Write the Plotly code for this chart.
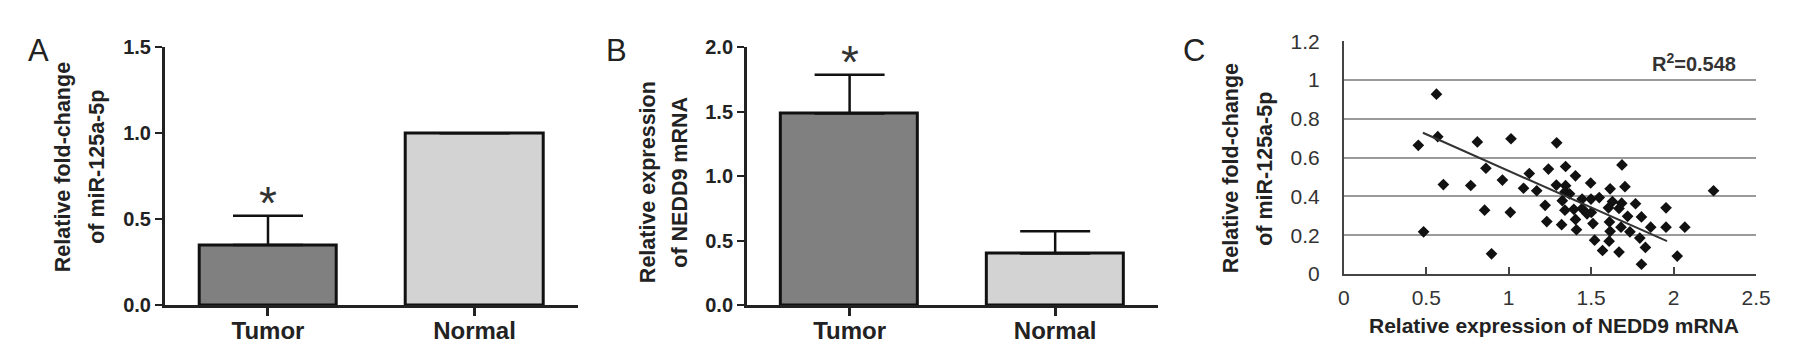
import plotly.graph_objects as go

W, H = 1795, 352

# ---------------- data ----------------
categories = ["Tumor", "Normal"]

mir_mean = [0.35, 1.0]
mir_err = [0.17, 0.0]

nedd9_mean = [1.487, 0.40]
nedd9_err = [0.30, 0.173]

scatter_x = [0.562, 0.570, 0.452, 0.810, 1.014, 1.291, 0.604, 0.770, 0.862, 0.962,
             0.484, 0.854, 1.010, 0.896,
             1.125, 1.090, 1.170, 1.241, 1.345, 1.405, 1.687, 1.497, 1.289, 1.345,
             1.341, 1.369, 1.615, 1.705, 2.242, 1.221, 1.325, 1.445, 1.499, 1.549,
             1.341, 1.395, 1.445, 1.475, 1.501, 1.629, 1.605, 1.669, 1.685, 1.769,
             1.954, 1.231, 1.321, 1.405, 1.411, 1.511, 1.611, 1.721, 1.805, 1.615,
             1.681, 1.735, 1.861, 1.954, 2.068, 1.795, 1.521, 1.609, 1.569, 1.669,
             1.829, 2.022, 1.805]
scatter_y = [0.927, 0.708, 0.663, 0.681, 0.697, 0.676, 0.461, 0.456, 0.545, 0.484,
             0.217, 0.329, 0.318, 0.104,
             0.518, 0.442, 0.429, 0.541, 0.554, 0.506, 0.562, 0.469, 0.458, 0.455,
             0.423, 0.413, 0.439, 0.450, 0.429, 0.354, 0.378, 0.386, 0.386, 0.394,
             0.329, 0.333, 0.337, 0.310, 0.317, 0.373, 0.341, 0.338, 0.365, 0.362,
             0.341, 0.270, 0.254, 0.281, 0.228, 0.260, 0.268, 0.297, 0.294, 0.220,
             0.241, 0.217, 0.241, 0.241, 0.241, 0.185, 0.174, 0.169, 0.121, 0.113,
             0.137, 0.092, 0.050]

trend_x = [0.48, 1.96]
trend_y = [0.728, 0.169]

r2_text = "R<sup>2</sup>=0.548"

x_ticks_c = [0, 0.5, 1, 1.5, 2, 2.5]
x_ticktext_c = ["0", "0.5", "1", "1.5", "2", "2.5"]
y_ticks_c = [0, 0.2, 0.4, 0.6, 0.8, 1.0, 1.2]
y_ticktext_c = ["0", "0.2", "0.4", "0.6", "0.8", "1", "1.2"]

# ---------------- helpers ----------------
def px(x):
    return x / W

def py(y):
    return 1 - y / H

FONT = "Liberation Sans"
bar_colors = ["#808080", "#d3d3d3"]

fig = go.Figure()

def add_bars(vals, errs, xa, ya):
    fig.add_trace(go.Bar(
        x=[0, 1], y=vals, width=0.665,
        marker=dict(color=bar_colors, line=dict(color="#111111", width=3)),
        error_y=dict(type="data", array=errs, arrayminus=[0, 0], symmetric=False,
                     color="#111111", thickness=2.5, width=35),
        xaxis=xa, yaxis=ya, showlegend=False, hoverinfo="skip"))

add_bars(mir_mean, mir_err, "x", "y")
add_bars(nedd9_mean, nedd9_err, "x2", "y2")

fig.add_trace(go.Scatter(
    x=scatter_x, y=scatter_y, mode="markers",
    marker=dict(symbol="diamond", size=9, color="#111111"),
    xaxis="x3", yaxis="y3", showlegend=False, hoverinfo="skip"))
fig.add_trace(go.Scatter(
    x=trend_x, y=trend_y, mode="lines",
    line=dict(color="#333333", width=2),
    xaxis="x3", yaxis="y3", showlegend=False, hoverinfo="skip"))

bar_yd = [py(305), py(29.3)]

def bar_xaxis(dom, anchor):
    return dict(domain=dom, anchor=anchor, range=[-0.5, 1.5], tickvals=[0, 1],
                ticktext=categories, ticks="outside", ticklen=8, tickwidth=2.5,
                tickcolor="#222222", showline=True, linecolor="#222222", linewidth=2.5,
                showgrid=False, zeroline=False, ticklabelstandoff=-6,
                tickfont=dict(family=FONT, size=24, color="#222222", weight="bold"))

def bar_yaxis(anchor, rng, dtick):
    return dict(domain=bar_yd, anchor=anchor, range=rng, dtick=dtick, tickformat=".1f",
                ticks="outside", ticklen=7, tickwidth=2, tickcolor="#222222",
                showline=True, linecolor="#222222", linewidth=2.5,
                showgrid=False, zeroline=False,
                tickfont=dict(family=FONT, size=20, color="#222222", weight="bold"))

fig.update_layout(
    width=W, height=H, margin=dict(l=0, r=0, t=0, b=0),
    paper_bgcolor="white", plot_bgcolor="white", bargap=0,
    xaxis=bar_xaxis([px(152.5), px(570.5)], "y"),
    yaxis=bar_yaxis("x", [0, 1.5], 0.5),
    xaxis2=bar_xaxis([px(741.5), px(1157.5)], "y2"),
    yaxis2=bar_yaxis("x2", [0, 2.0], 0.5),
    xaxis3=dict(domain=[px(1345.5), px(1762.7)], anchor="y3", range=[0, 2.5],
                tickvals=x_ticks_c, ticktext=x_ticktext_c, ticks="inside", ticklen=7,
                tickwidth=1.5, tickcolor="#444444", showline=True, linecolor="#444444",
                linewidth=1.5, showgrid=False, zeroline=False, ticklabelstandoff=4,
                tickfont=dict(family=FONT, size=21, color="#333333")),
    yaxis3=dict(domain=[py(271.7), py(22.7)], anchor="x3", range=[0, 1.2],
                tickvals=y_ticks_c, ticktext=y_ticktext_c, ticks="", showline=True,
                linecolor="#444444", linewidth=1.5, showgrid=True, gridcolor="#9a9a9a",
                gridwidth=1.5, zeroline=False, ticklabelstandoff=18,
                tickfont=dict(family=FONT, size=21, color="#333333")),
)

ann = []
# panel letters
for letter, xc in [("A", 24.5), ("B", 610), ("C", 1194)]:
    ann.append(dict(text=letter, x=px(xc), y=py(33), xref="paper", yref="paper",
                    showarrow=False, xanchor="center", yanchor="middle",
                    font=dict(family=FONT, size=31, color="#222222")))

# y titles (two lines each)
def ytitle(lines, xs, yc):
    for t, xc in zip(lines, xs):
        ann.append(dict(text=t, x=px(xc), y=py(yc), xref="paper", yref="paper",
                        showarrow=False, textangle=-90, xanchor="center", yanchor="middle",
                        font=dict(family=FONT, size=21.5, color="#222222", weight="bold")))

ytitle(["Relative fold-change", "of miR-125a-5p"], [49, 84], 157)
ytitle(["Relative expression", "of NEDD9 mRNA"], [641, 674], 174)
ytitle(["Relative fold-change", "of miR-125a-5p"], [1231, 1265], 159)

# x title for C
ann.append(dict(text="Relative expression of NEDD9 mRNA", x=px(1558), y=py(327),
                xref="paper", yref="paper", showarrow=False, xanchor="center",
                yanchor="middle",
                font=dict(family=FONT, size=21, color="#222222", weight="bold")))

# R2
ann.append(dict(text=r2_text, x=px(1700), y=py(45), xref="paper", yref="paper",
                showarrow=False, xanchor="center", yanchor="middle",
                font=dict(family=FONT, size=20, color="#333333", weight="bold")))

# significance stars
ann.append(dict(text="*", x=0, y=mir_mean[0] + mir_err[0], xref="x", yref="y",
                showarrow=False, xanchor="center", yanchor="bottom", yshift=-15,
                font=dict(family=FONT, size=46, color="#333333")))
ann.append(dict(text="*", x=0, y=nedd9_mean[0] + nedd9_err[0], xref="x2", yref="y2",
                showarrow=False, xanchor="center", yanchor="bottom", yshift=-15,
                font=dict(family=FONT, size=46, color="#333333")))

fig.update_layout(annotations=ann)

fig.write_html("out.html")
